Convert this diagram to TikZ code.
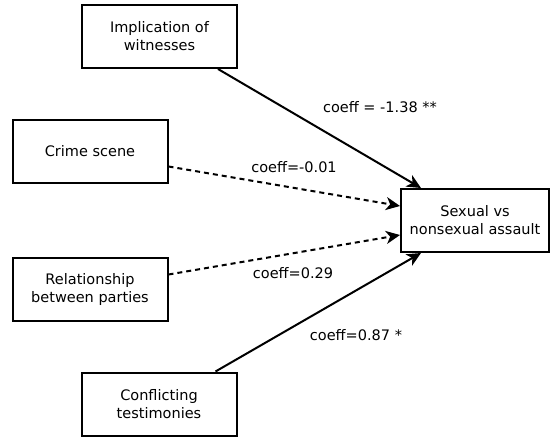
\documentclass[tikz,border=0pt]{standalone}
\usepackage{fontspec}
\setmainfont{DejaVu Sans}
\usetikzlibrary{arrows.meta}

\begin{document}
\begin{tikzpicture}[x=1pt, y=1pt, line width=2pt, every node/.style={font=\fontsize{14.5}{18}\selectfont},
    factor/.style={draw, rectangle, align=center, minimum width=155pt, minimum height=63pt, inner sep=2pt},
    effect/.style={-{Stealth[length=14pt,width=13pt,inset=4pt]}},
    weak/.style={effect, dash pattern=on 5pt off 4pt}]
            \useasboundingbox (0,0) rectangle (552,437);
            \node [factor] (Impl) at (159.5,400.5) {Implication of\\witnesses};
            \node [factor] (Scene) at (90,285.5) {Crime scene};
            \node [factor] (Rel) at (90,147.5) {Relationship\\between parties};
            \node [factor] (Confl) at (159,33) {Conflicting\\testimonies};
            \node [factor, minimum width=148pt] (Assault) at (475,216.5) {Sexual vs\\nonsexual assault};
            \node (cImpl) at (380,330) {coeff = -1.38 **};
            \node (cScene) at (294,270) {coeff=-0.01};
            \node (cRel) at (293,164) {coeff=0.29};
            \node (cConfl) at (356,102) {coeff=0.87 *};
            \path[effect] ([xshift=-20pt]Impl.south east) edge ([xshift=21pt]Assault.north west);
            \path[weak] ([yshift=-15pt]Scene.east) edge ([yshift=14.5pt]Assault.west);
            \path[weak] ([yshift=15pt]Rel.east) edge ([yshift=-14.5pt]Assault.west);
            \path[effect] ([xshift=-22pt]Confl.north east) edge ([xshift=21pt]Assault.south west);
        \end{tikzpicture}
\end{document}
